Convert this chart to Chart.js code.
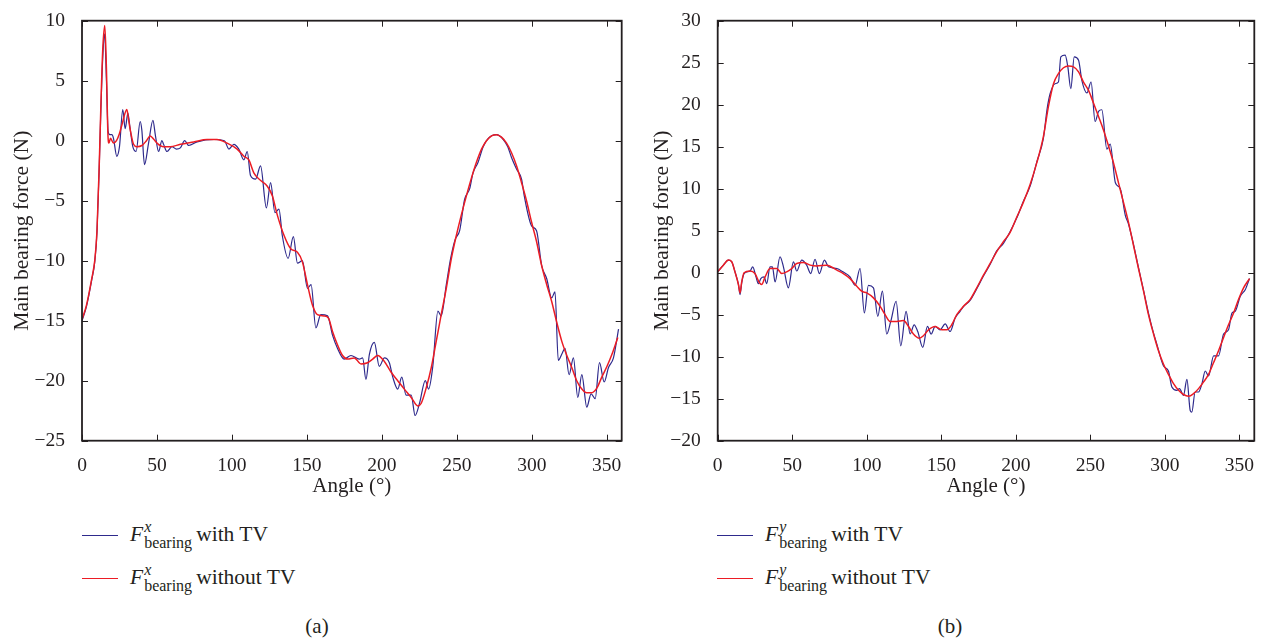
<!DOCTYPE html>
<html>
<head>
<meta charset="utf-8">
<script src="https://cdn.jsdelivr.net/npm/chart.js@4"></script>
<style>
  body { margin:0; width:1261px; height:640px; background:#fff; position:relative; overflow:hidden;
         font-family:"Liberation Serif", "DejaVu Serif", serif; color:#231f20; }
  .box { position:absolute; top:0; height:500px; }
  .leg { position:absolute; font-size:21.5px; white-space:nowrap; line-height:22px; }
  .leg .ln { position:absolute; left:0; top:0; width:36px; height:0; border-top:1.5px solid; }
  .leg .tx { position:absolute; left:48px; top:-16px; }
  .ss { display:inline-block; vertical-align:-7px; line-height:16px; font-size:16px; margin-left:1px; margin-right:4px; }
  .ss span { display:block; }
  .ss .sup { font-style:italic; }
  .cap { position:absolute; top:614px; font-size:21px; transform:translateX(-50%); }
</style>
</head>
<body>
<div class="box" style="left:0;width:640px"><canvas id="chartA"></canvas></div>
<div class="box" style="left:640px;width:621px"><canvas id="chartB"></canvas></div>

<div class="leg" style="left:82px;top:535px"><div class="ln" style="border-color:#2e2a8c"></div>
  <div class="tx"><i>F</i><span class="ss"><span class="sup">x</span><span>bearing</span></span>with TV</div></div>
<div class="leg" style="left:82px;top:578px"><div class="ln" style="border-color:#ec1c24"></div>
  <div class="tx"><i>F</i><span class="ss"><span class="sup">x</span><span>bearing</span></span>without TV</div></div>
<div class="leg" style="left:717px;top:535px"><div class="ln" style="border-color:#2e2a8c"></div>
  <div class="tx"><i>F</i><span class="ss"><span class="sup">y</span><span>bearing</span></span>with TV</div></div>
<div class="leg" style="left:717px;top:578px"><div class="ln" style="border-color:#ec1c24"></div>
  <div class="tx"><i>F</i><span class="ss"><span class="sup">y</span><span>bearing</span></span>without TV</div></div>
<div class="cap" style="left:317px">(a)</div>
<div class="cap" style="left:950px">(b)</div>

<script>
// [angle (deg), force (N)]
const fxWithTV = [[0,-15.0],[3,-13.8],[6.5,-11.6],[8.5,-10.1],[10,-7.6],[11.5,-2.2],[12.5,2.2],[13.8,6.8],[15.1,8.9],[16.3,5],
  [17.4,0.8],[18.5,0.5],[19.9,0.5],[21,0.2],[23.2,-1.3],[25,-0.5],[27.2,2.6],[28.8,1.0],[30.6,2.3],[32.1,1.0],
  [33.9,-0.5],[36.1,-0.9],[38.8,1.6],[39.9,0.9],[41.7,-2.0],[44.4,-0.2],[47.3,1.7],[49,0.4],[51.1,-0.9],[53.3,0],
  [54.4,-0.3],[56.7,-0.9],[60,-0.5],[63,-0.7],[65.6,-0.6],[68.5,0],[71.2,-0.4],[76.8,-0.1],[88,0.1],[95,0],
  [98,-0.7],[101.3,-0.3],[104.6,-0.7],[108,-1.6],[110.2,-0.9],[112.4,-2.9],[115.8,-3.2],[119.1,-2.1],[123,-5.6],[125.8,-3.5],
  [128.7,-6.0],[131.4,-5.7],[133.6,-7.9],[137.5,-9.8],[141,-8.0],[143.7,-10.2],[147,-10.0],[150.4,-12.3],[152.8,-12.0],[156,-15.6],
  [159.3,-14.5],[163.8,-14.6],[167.1,-16.2],[170.4,-17.3],[174.9,-18.2],[179.4,-17.9],[185,-18.2],[187.2,-18.1],[189.4,-19.9],[191.7,-17.8],
  [195,-16.8],[198.3,-18.8],[201.7,-18.1],[205,-18.5],[207.3,-19.7],[210.6,-20.7],[213.3,-19.7],[216.2,-21.2],[219.6,-21.2],[222.2,-22.9],
  [225.1,-21.9],[229,-20.0],[231.2,-20.7],[234,-18.8],[237.4,-14.2],[239.6,-14.6],[243,-12.0],[245.9,-9.8],[249,-8.2],[251.9,-7.5],
  [255.2,-4.9],[258.6,-4.0],[260.8,-2.7],[264.2,-1.8],[267.6,-0.5],[271,0.2],[276.5,0.5],[281,0.1],[284,-0.5],[286.5,-1.4],
  [290,-2.4],[293.2,-3.2],[295,-4.6],[299.9,-7.1],[303.2,-7.5],[306.6,-10.4],[310,-11.5],[313.3,-13.1],[315.5,-12.6],[317.7,-18.3],
  [320,-17.8],[322.2,-17.3],[324.9,-19.5],[327.8,-18.1],[330.7,-21.4],[333.4,-19.5],[336.7,-22.2],[339.6,-21.1],[342.3,-21.5],[345.2,-18.5],
  [348.3,-20.1],[351.2,-18.9],[354.5,-18.1],[357.9,-15.7]];

const fxWithoutTV = [[0,-14.9],[3,-13.7],[6.5,-11.5],[8.5,-10.0],[10,-7.5],[11.5,-2],[12.5,2.5],[13.8,7.5],[15.2,9.6],[16.3,6],
  [17.3,0.5],[18,-0.2],[19,0.2],[21,-0.2],[23,0],[25,0.6],[27,1.5],[29.9,2.6],[31,1.8],[32.5,0.7],
  [34.4,-0.3],[36.6,-0.5],[40,-0.4],[43,0],[45.5,0.4],[48,0.1],[50,-0.2],[54.4,-0.5],[58.9,-0.5],[65.6,-0.3],
  [74.5,-0.1],[83.4,0.1],[90,0.1],[96.8,-0.2],[103.5,-0.7],[108,-1.3],[111.3,-1.6],[114.7,-2.7],[119,-3.3],[123.6,-3.8],
  [127,-4.6],[130.3,-6.2],[134.8,-7.9],[139.2,-9.0],[143.7,-9.3],[147,-10.1],[150.4,-12.0],[153.7,-13.7],[157,-14.5],[161.5,-14.6],
  [164.5,-14.8],[167.1,-15.9],[170.4,-17.0],[173.8,-17.9],[177.2,-18.2],[181.6,-18.1],[186.1,-18.6],[190.5,-18.5],[193.9,-18.2],[197.2,-17.9],
  [201.7,-18.4],[206.2,-19.3],[210.6,-20.0],[215,-20.7],[219.6,-21.4],[224,-22.1],[226.2,-21.9],[229.6,-20.6],[233,-18.9],[236.3,-16.7],
  [239.6,-14.5],[243,-12.3],[246.4,-9.8],[249.7,-7.9],[253,-6.2],[256.4,-4.6],[259.8,-3.1],[263.1,-1.8],[266.5,-0.7],[269.8,0],
  [273.2,0.4],[276.5,0.5],[279.8,0.3],[283.2,-0.2],[286.5,-1.0],[289.9,-2.1],[293.2,-3.5],[296.5,-5.0],[299.9,-6.8],[303.2,-8.4],
  [306.6,-10.4],[310,-12.0],[313.3,-13.4],[316.6,-15.1],[320,-16.7],[323.4,-17.9],[326.7,-18.9],[330,-20.0],[333.4,-20.7],[336.7,-21.0],
  [340,-21.0],[343.5,-20.6],[346.7,-19.7],[350.2,-18.8],[353.5,-17.8],[357.4,-16.4]];

const fyWithTV = [[0,0.1],[3.8,0.9],[7.2,1.5],[9.4,1.3],[11.6,0.1],[13.9,-1.4],[15,-2.6],[16.1,-1.2],[17.7,-0.1],[21.7,0.2],
  [23.5,0.7],[25.7,-0.5],[27.3,-1.3],[28.9,-0.7],[31.1,-0.5],[32.9,-1.3],[35.1,0.7],[36.7,0.7],[38.5,-1.1],[41.8,1.9],
  [44.1,0.7],[47.4,-1.8],[50.8,1.3],[53,0.2],[56.4,1.5],[59.7,0.9],[62.4,-0.1],[65.3,1.6],[68.2,-0.1],[71.6,1.5],
  [74.3,0.7],[80,0.5],[84,0.1],[88.8,-0.5],[92.2,-1.5],[95.5,0.5],[98.4,-4.8],[101.1,-1.5],[104.5,-1.8],[107.4,-5.2],
  [110.5,-2.2],[113.4,-7.3],[116.1,-5.8],[119.7,-3.4],[122.8,-8.7],[126.4,-4.6],[129.1,-7.3],[131.8,-6.2],[134.2,-7.0],[137.6,-8.9],
  [140.7,-6.4],[143.2,-7.3],[145.9,-6.4],[149.2,-6.8],[152.6,-6.1],[155.9,-7.0],[159.3,-5.4],[162.6,-4.6],[165,-4.0],[169.3,-3.3],
  [173.8,-1.9],[178.3,-0.4],[182.8,1.0],[187.2,2.6],[191.7,3.5],[196.2,4.9],[200.6,6.5],[205.1,8.5],[209.6,10.3],[214.1,13.2],
  [218.5,16.0],[221,19.5],[223,21.3],[226.3,22.5],[228.6,22.7],[230.2,25.7],[233.1,25.9],[234.9,24.5],[236.9,21.9],[239.2,25.7],
  [242.1,25.3],[244.3,22.9],[247.7,21.4],[250.5,22.7],[253.2,18.0],[255.5,19.2],[257.7,19.4],[261.1,14.7],[263.3,15.3],[266.8,10.7],
  [270.1,10.0],[273.5,6.8],[275.6,5.8],[278.9,3.4],[282.3,0.6],[285.7,-2.1],[289,-4.8],[292.4,-7.2],[294.6,-8.5],[299.1,-11.1],
  [302.4,-11.7],[304.7,-13.6],[308,-14.0],[309.8,-13.8],[312.5,-14.6],[314.8,-12.7],[317,-16.4],[318.1,-16.6],[320.3,-14.2],[322.6,-14.2],
  [324.9,-13.2],[327.1,-11.7],[329.3,-12.3],[332.7,-9.9],[336,-9.9],[339.4,-7.3],[342.7,-6.8],[345,-4.8],[347.2,-4.6],[350.6,-2.8],
  [354,-2.0],[356.8,-0.7]];

const fyWithoutTV = [[0,0.1],[3.8,0.9],[7.2,1.5],[9.4,1.3],[11.6,0.1],[13.9,-1.4],[15,-2.4],[16.1,-1.1],[17.7,0],[21.7,0.2],
  [25,-0.1],[28,-1.2],[29.5,-1.4],[31.8,-0.5],[35.1,0.5],[39.6,0.5],[43,-0.1],[46.3,0.1],[49.7,0.5],[53,1.1],
  [57.5,1.2],[62,0.9],[66.4,0.8],[73.2,0.9],[80,0.3],[84.3,-0.1],[88.8,-0.7],[93.3,-1.6],[96.6,-2.2],[100,-2.4],
  [104.5,-3.0],[109,-4.0],[112.3,-5.0],[115.7,-5.8],[120.1,-5.8],[124.6,-5.7],[128,-6.4],[131.3,-7.3],[135.3,-7.8],[138,-7.5],
  [141.4,-6.8],[145.9,-6.4],[150.3,-6.8],[153.7,-6.8],[157,-6.2],[160.4,-5.0],[164.9,-4.0],[169.3,-3.2],[173.8,-1.8],[178.3,-0.3],
  [182.8,1.1],[187.2,2.5],[191.7,3.7],[196.2,4.8],[200.6,6.6],[205.1,8.4],[209.6,10.5],[214.1,13.1],[218.5,16.2],[221.9,19.8],
  [225.3,22.5],[228.6,23.7],[232,24.4],[235.3,24.6],[238.7,24.5],[242.1,23.9],[245.4,22.7],[248.8,21.7],[252.1,20.2],[255.5,18.6],
  [258.8,17.0],[262.2,15.1],[265.5,13.1],[268.9,10.7],[272.2,8.4],[275.6,6.0],[278.9,3.3],[282.3,0.5],[285.7,-2.2],[289,-5.0],
  [292.4,-7.3],[295.7,-9.3],[299.1,-10.9],[302.4,-12.1],[305.8,-13.2],[309.2,-14.0],[312.5,-14.5],[315.9,-14.7],[319.2,-14.4],[322.6,-13.8],
  [326,-13.0],[329.3,-12.1],[332.7,-10.7],[336,-9.3],[339.4,-7.7],[342.7,-6.2],[346.1,-4.8],[349.4,-3.2],[352.8,-1.8],[356.8,-0.7]];

const angleTicks = [0, 50, 100, 150, 200, 250, 300, 350];
const yRangeA = [-25, 10];
const yRangeB = [-20, 30];

const ink = '#231f20';
const serif = '"Liberation Serif", "DejaVu Serif", serif';

// box frame with inward ticks on all four sides
const framePlugin = {
  id: 'frame',
  afterDraw(chart) {
    const { ctx, chartArea: a, scales: { x, y } } = chart;
    const len = 6;
    ctx.save();
    ctx.strokeStyle = ink;
    ctx.lineWidth = 1;
    ctx.beginPath();
    x.ticks.forEach(t => {
      const px = Math.round(x.getPixelForValue(t.value)) + 0.5;
      ctx.moveTo(px, a.bottom); ctx.lineTo(px, a.bottom - len);
      ctx.moveTo(px, a.top); ctx.lineTo(px, a.top + len);
    });
    y.ticks.forEach(t => {
      const py = Math.round(y.getPixelForValue(t.value)) + 0.5;
      ctx.moveTo(a.left, py); ctx.lineTo(a.left + len, py);
      ctx.moveTo(a.right, py); ctx.lineTo(a.right - len, py);
    });
    ctx.stroke();
    ctx.lineWidth = 1.8;
    ctx.strokeRect(a.left, a.top, a.right - a.left, a.bottom - a.top);
    ctx.restore();
  }
};

function toPoints(arr) {
  return arr.map(p => ({ x: p[0], y: p[1] }));
}

function makeChart(id, withTV, withoutTV, yRange, yWidth, padRight) {
  return new Chart(document.getElementById(id), {
    type: 'line',
    data: {
      datasets: [{
          data: toPoints(withTV),
          borderColor: '#2e2a8c',
          borderWidth: 1.2,
          order: 1
        }, {
          data: toPoints(withoutTV),
          borderColor: '#ec1c24',
          borderWidth: 1.5,
          order: 0
        }
      ]
    },
    options: {
      responsive: true,
      maintainAspectRatio: false,
      animation: false,
      layout: { padding: { top: 16.7, right: padRight, left: 0, bottom: 0 } },
      elements: {
        point: { radius: 0 },
        line: { cubicInterpolationMode: 'monotone', fill: false }
      },
      plugins: { legend: { display: false }, tooltip: { enabled: false } },
      scales: {
        x: {
          type: 'linear',
          min: 0,
          max: 360,
          afterFit: s => { s.height = 59.3; },
          afterBuildTicks: s => { s.ticks = angleTicks.map(v => ({ value: v })); },
          border: { display: false },
          grid: { display: false },
          ticks: { color: ink, font: { family: serif, size: 19.5 }, padding: 5, maxRotation: 0 },
          title: { display: true, text: 'Angle (°)', color: ink,
                   font: { family: serif, size: 21 }, padding: { top: 0, bottom: 1 } }
        },
        y: {
          min: yRange[0],
          max: yRange[1],
          afterFit: s => { s.width = yWidth; },
          border: { display: false },
          grid: { display: false },
          ticks: { stepSize: 5, color: ink, font: { family: serif, size: 19.5 }, padding: 9,
                   callback: v => String(v).replace('-', '\u2212') },
          title: { display: true, text: 'Main bearing force (N)', color: ink,
                   font: { family: serif, size: 21.5 }, padding: { top: 9.5, bottom: 0 } }
        }
      }
    },
    plugins: [framePlugin]
  });
}

makeChart('chartA', fxWithTV, fxWithoutTV, yRangeA, 82, 18.3);
makeChart('chartB', fyWithTV, fyWithoutTV, yRangeB, 77.7, 6.7);
</script>
</body>
</html>
